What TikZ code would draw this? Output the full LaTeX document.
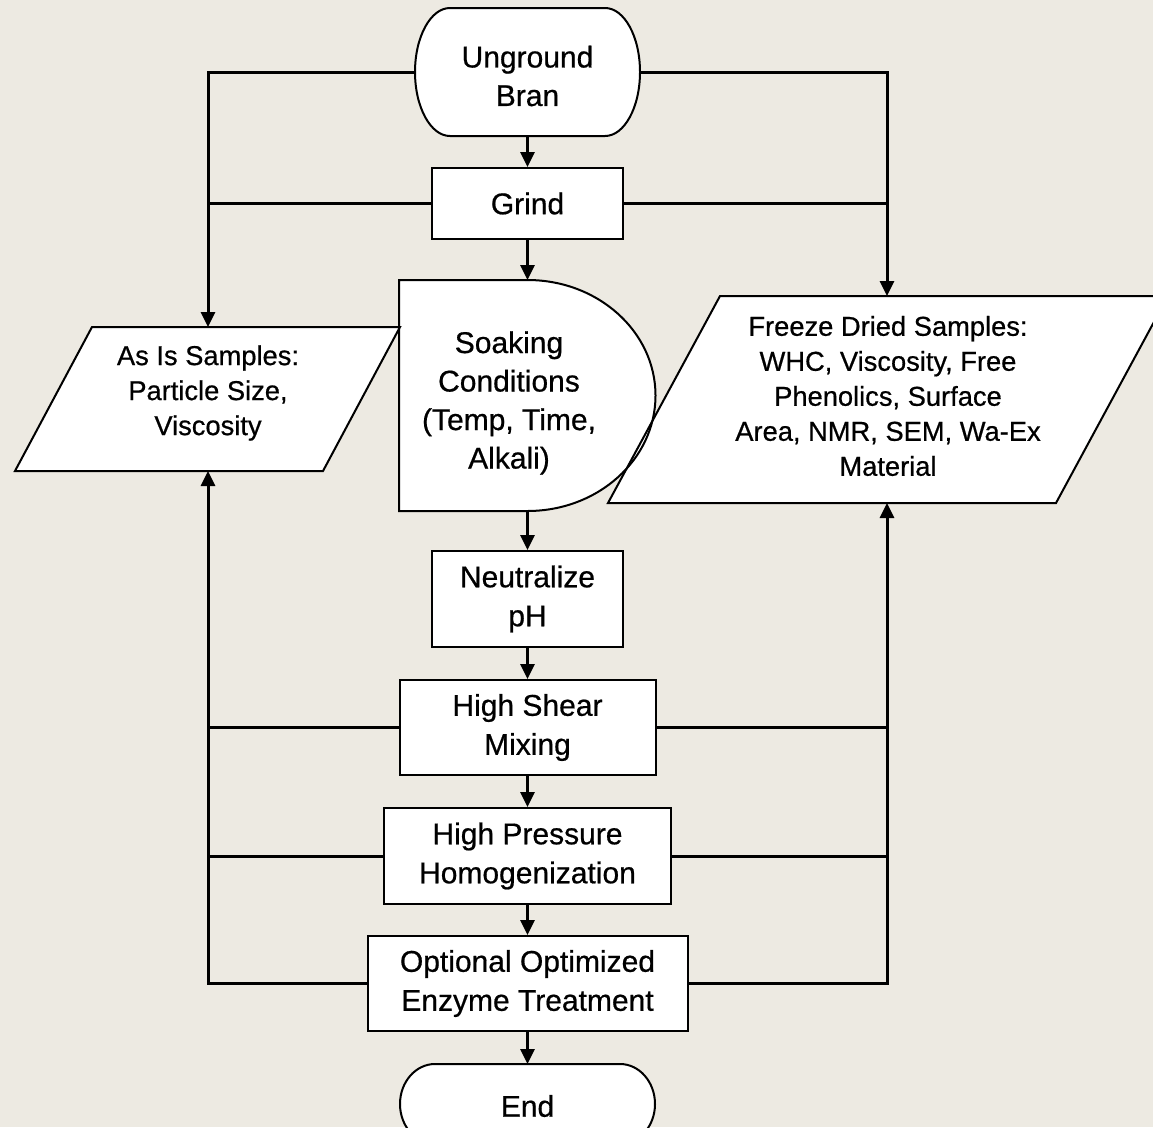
\documentclass[tikz,border=0pt]{standalone}
\usepackage{fontspec}
\setmainfont[FakeBold=0.6]{Liberation Sans}
\usetikzlibrary{arrows.meta}
\definecolor{bg}{HTML}{EDEAE2}
\begin{document}
\begin{tikzpicture}[x=1pt,y=-1pt,
  outline/.style={draw=black,line width=2pt,fill=white,line join=miter},
  box/.style={outline,inner sep=0pt,align=center,font=\fontsize{30}{39}\selectfont},
  txt/.style={inner sep=0pt,align=center,font=\fontsize{30}{38.5}\selectfont},
  smalltxt/.style={inner sep=0pt,align=center,font=\fontsize{27.3}{35}\selectfont},
  conn/.style={line width=3pt},
  arr/.style={conn,-{Triangle[length=15pt,width=14pt]}}]
\fill[bg] (0,0) rectangle (1153,1127);
\useasboundingbox (0,0) rectangle (1153,1127);

% shape fills, then strokes
\path[fill=white] (608,503) -- (720,296) -- (1168,296) -- (1056,503) -- cycle;
\path[fill=white] (15,471) -- (92,327) -- (400,327) -- (323,471) -- cycle;
\path[fill=white] (399,511) -- (399,280) -- (527.5,280) arc[start angle=90,end angle=-90,x radius=128pt,y radius=115.5pt] -- cycle;
\draw[line width=2pt] (608,503) -- (720,296) -- (1168,296) -- (1056,503) -- cycle;
\draw[line width=2pt] (15,471) -- (92,327) -- (400,327) -- (323,471) -- cycle;
\draw[line width=2pt] (399,511) -- (399,280) -- (527.5,280) arc[start angle=90,end angle=-90,x radius=128pt,y radius=115.5pt] -- cycle;
\draw[outline] (450,8) -- (605,8) arc[start angle=90,end angle=-90,x radius=35pt,y radius=64pt] -- (450,136) arc[start angle=270,end angle=90,x radius=35pt,y radius=64pt] -- cycle;
\draw[outline] (435,1064) -- (620,1064) arc[start angle=90,end angle=-90,x radius=35pt,y radius=40pt] -- (435,1144) arc[start angle=270,end angle=90,x radius=35pt,y radius=40pt] -- cycle;

% text nodes
\node[txt] (ug) at (527.5,76) {Unground\\Bran};
\node[txt] (soak) at (509,403) {Soaking\\Conditions\\(Temp, Time,\\Alkali)};
\node[smalltxt] (asis) at (208,393) {As Is Samples:\\Particle Size,\\Viscosity};
\node[smalltxt] (fd) at (888,396) {Freeze Dried Samples:\\WHC, Viscosity, Free\\Phenolics, Surface\\Area, NMR, SEM, Wa-Ex\\Material};
\node[txt] (endn) at (527.5,1106) {End};

\node[box,minimum width=191pt,minimum height=71pt] (grind) at (527.5,203.5) {Grind};
\node[box,minimum width=191pt,minimum height=96pt] (neut) at (527.5,599) {Neutralize\\pH};
\node[box,minimum width=256pt,minimum height=95pt] (hsm) at (527.5,727.5) {High Shear\\Mixing};
\node[box,minimum width=287pt,minimum height=96pt] (hph) at (527.5,856) {High Pressure\\Homogenization};
\node[box,minimum width=320pt,minimum height=95pt] (opt) at (527.5,983.5) {Optional Optimized\\Enzyme Treatment};

% anchor coordinates of drawn shapes
\coordinate (ugW) at (415,72);
\coordinate (ugE) at (640,72);
\coordinate (ugS) at (527.5,136);
\coordinate (soakN) at (527.5,280);
\coordinate (soakS) at (527.5,511);
\coordinate (asisN) at (208,327);
\coordinate (asisS) at (208,471);
\coordinate (fdN) at (887,296);
\coordinate (fdS) at (887,503);
\coordinate (endN) at (527.5,1064);

% main flow
\draw[arr] (ugS) -- (grind.north);
\draw[arr] (grind.south) -- (soakN);
\draw[arr] (soakS) -- (neut.north);
\draw[arr] (neut.south) -- (hsm.north);
\draw[arr] (hsm.south) -- (hph.north);
\draw[arr] (hph.south) -- (opt.north);
\draw[arr] (opt.south) -- (endN);

% left trunk
\draw[arr] (ugW) -| (asisN);
\draw[conn] (grind.west) -- (grind.west -| asisN);
\draw[arr] (opt.west) -| (asisS);
\draw[conn] (hsm.west) -- (hsm.west -| asisS);
\draw[conn] (hph.west) -- (hph.west -| asisS);

% right trunk
\draw[arr] (ugE) -| (fdN);
\draw[conn] (grind.east) -- (grind.east -| fdN);
\draw[arr] (opt.east) -| (fdS);
\draw[conn] (hsm.east) -- (hsm.east -| fdS);
\draw[conn] (hph.east) -- (hph.east -| fdS);
\end{tikzpicture}
\end{document}
